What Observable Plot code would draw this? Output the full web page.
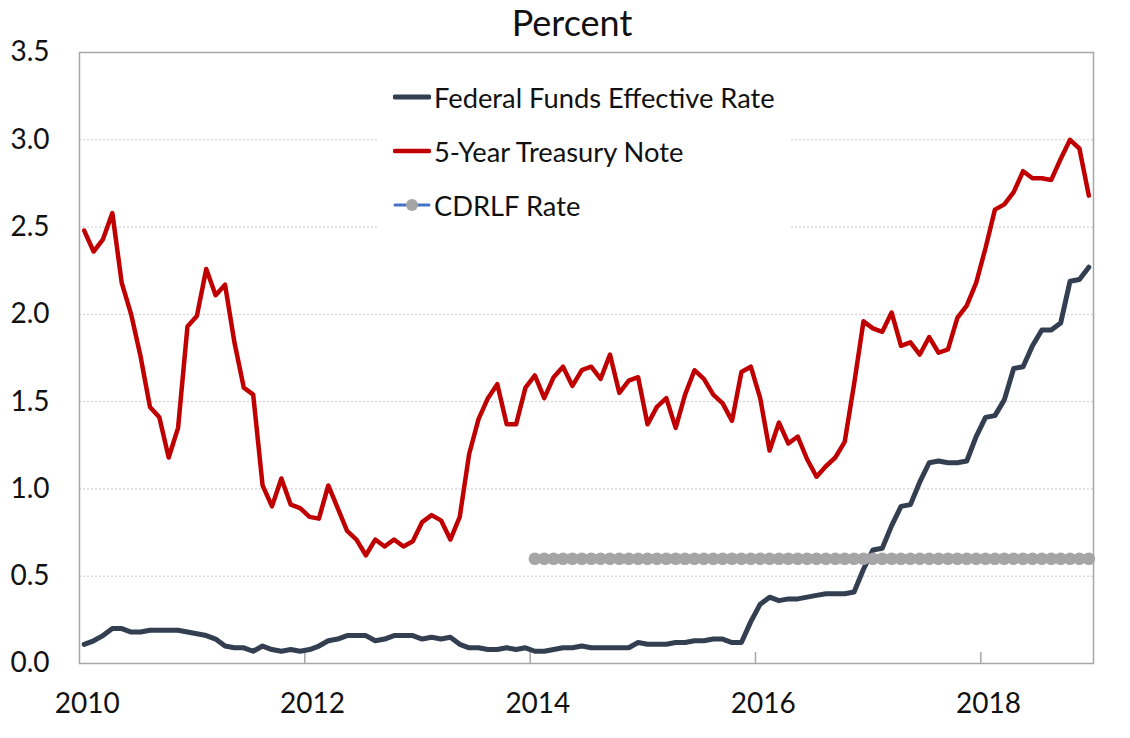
<!DOCTYPE html>
<html>
<head>
<meta charset="utf-8">
<script src="https://cdn.jsdelivr.net/npm/d3@7"></script>
<script src="https://cdn.jsdelivr.net/npm/@observablehq/plot@0.6"></script>
<style>
  html, body { margin: 0; padding: 0; background: #fff; }
  #wrap { position: relative; width: 1130px; height: 738px; font-family: Lato, "Open Sans", sans-serif; }
  #title { position: absolute; left: 572px; top: 0px; transform: translateX(-50%); font-size: 36px; color: #111; white-space: nowrap; }
  #legend { position: absolute; left: 379px; top: 72px; width: 411px; height: 163px; background: #fff; }
  .item { position: absolute; left: 14px; height: 30px; display: flex; align-items: center; font-size: 27.3px; color: #111; white-space: nowrap; }
  .item svg { margin-right: 3px; }
</style>
</head>
<body>
<div id="wrap">
  <div id="chart"></div>
  <div id="title">Percent</div>
  <div id="legend"></div>
</div>
<script>
// Monthly series, Jan 2010 – Dec 2018
const startMonth = "2010-01";
const fedFunds = [
  0.11,0.13,0.16,0.20,0.20,0.18,0.18,0.19,0.19,0.19,0.19,0.18,
  0.17,0.16,0.14,0.10,0.09,0.09,0.07,0.10,0.08,0.07,0.08,0.07,
  0.08,0.10,0.13,0.14,0.16,0.16,0.16,0.13,0.14,0.16,0.16,0.16,
  0.14,0.15,0.14,0.15,0.11,0.09,0.09,0.08,0.08,0.09,0.08,0.09,
  0.07,0.07,0.08,0.09,0.09,0.10,0.09,0.09,0.09,0.09,0.09,0.12,
  0.11,0.11,0.11,0.12,0.12,0.13,0.13,0.14,0.14,0.12,0.12,0.24,
  0.34,0.38,0.36,0.37,0.37,0.38,0.39,0.40,0.40,0.40,0.41,0.54,
  0.65,0.66,0.79,0.90,0.91,1.04,1.15,1.16,1.15,1.15,1.16,1.30,
  1.41,1.42,1.51,1.69,1.70,1.82,1.91,1.91,1.95,2.19,2.20,2.27
];
const treasury5y = [
  2.48,2.36,2.43,2.58,2.18,2.00,1.76,1.47,1.41,1.18,1.35,1.93,
  1.99,2.26,2.11,2.17,1.84,1.58,1.54,1.02,0.90,1.06,0.91,0.89,
  0.84,0.83,1.02,0.89,0.76,0.71,0.62,0.71,0.67,0.71,0.67,0.70,
  0.81,0.85,0.82,0.71,0.84,1.20,1.40,1.52,1.60,1.37,1.37,1.58,
  1.65,1.52,1.64,1.70,1.59,1.68,1.70,1.63,1.77,1.55,1.62,1.64,
  1.37,1.47,1.52,1.35,1.54,1.68,1.63,1.54,1.49,1.39,1.67,1.70,
  1.52,1.22,1.38,1.26,1.30,1.17,1.07,1.13,1.18,1.27,1.60,1.96,
  1.92,1.90,2.01,1.82,1.84,1.77,1.87,1.78,1.80,1.98,2.05,2.18,
  2.38,2.60,2.63,2.70,2.82,2.78,2.78,2.77,2.89,3.00,2.95,2.68
];
// CDRLF rate, Jan 2014 – Dec 2018
const cdrlfStart = "2014-01";
const cdrlf = [
  0.6,0.6,0.6,0.6,0.6,0.6,0.6,0.6,0.6,0.6,0.6,0.6,
  0.6,0.6,0.6,0.6,0.6,0.6,0.6,0.6,0.6,0.6,0.6,0.6,
  0.6,0.6,0.6,0.6,0.6,0.6,0.6,0.6,0.6,0.6,0.6,0.6,
  0.6,0.6,0.6,0.6,0.6,0.6,0.6,0.6,0.6,0.6,0.6,0.6,
  0.6,0.6,0.6,0.6,0.6,0.6,0.6,0.6,0.6,0.6,0.6,0.6
];
const xTickLabels = ["2010","2012","2014","2016","2018"];
const yTicks = [0,0.5,1.0,1.5,2.0,2.5,3.0,3.5];
const seriesNames = ["Federal Funds Effective Rate","5-Year Treasury Note","CDRLF Rate"];

const colors = { fed: "#333f50", tsy: "#c00000", cdrlfDot: "#a5a5a5", cdrlfLine: "#4472c4", axis: "#a6a6a6", grid: "#c8c8c8" };

const parse = d3.utcParse("%Y-%m");
const t0 = parse(startMonth);
const monthIndex = d => d3.utcMonth.count(t0, d);
const months = fedFunds.map((_, i) => d3.utcMonth.offset(t0, i));
const fedRows = fedFunds.map((v, i) => ({i: monthIndex(months[i]), v}));
const tsyRows = treasury5y.map((v, i) => ({i: monthIndex(months[i]), v}));
const cStart = monthIndex(parse(cdrlfStart));
const cdrlfRows = cdrlf.map((v, k) => ({i: cStart + k, v}));

const labelIdx = xTickLabels.map(y => monthIndex(parse(y + "-01")));
const boundaryIdx = labelIdx.slice(1).map(i => i - 0.5);

const chart = Plot.plot({
  width: 1130,
  height: 738,
  marginLeft: 79,
  marginRight: 37,
  marginTop: 52,
  marginBottom: 75,
  style: { fontFamily: "Lato, 'Open Sans', sans-serif", color: "#111", background: "#fff" },
  x: { type: "linear", domain: [-0.5, fedFunds.length - 0.5], axis: null },
  y: { domain: [0, 3.5], axis: null },
  marks: [
    Plot.gridY(yTicks.filter(d => d > 0 && d < 3.5), { stroke: colors.grid, strokeOpacity: 1, strokeDasharray: "2,2" }),
    Plot.axisY({ ticks: yTicks, tickFormat: d3.format(".1f"), tickSize: 0, tickPadding: 30, fontSize: 28, fill: "#111", label: null }),
    Plot.axisX({ ticks: labelIdx, tickFormat: (d, k) => xTickLabels[k], tickSize: 0, tickPadding: 30, dx: 3, fontSize: 28, fill: "#111", label: null }),
    Plot.axisX({ ticks: boundaryIdx, tickSize: -11, tickFormat: () => "", stroke: colors.axis, strokeWidth: 1.5, label: null }),
    Plot.frame({ stroke: colors.axis, strokeWidth: 1.5 }),
    Plot.line(fedRows, { x: "i", y: "v", stroke: colors.fed, strokeWidth: 5, strokeLinejoin: "round" }),
    Plot.line(tsyRows, { x: "i", y: "v", stroke: colors.tsy, strokeWidth: 4.5, strokeLinejoin: "round" }),
    Plot.dot(cdrlfRows, { x: "i", y: "v", r: 6.3, fill: colors.cdrlfDot, stroke: "none" })
  ]
});
document.getElementById("chart").appendChild(chart);

// Legend
const legend = document.getElementById("legend");
const swatches = [
  `<svg width="38" height="14"><line x1="2" y1="7" x2="36" y2="7" stroke="${colors.fed}" stroke-width="5" stroke-linecap="round"/></svg>`,
  `<svg width="38" height="14"><line x1="2" y1="7" x2="36" y2="7" stroke="${colors.tsy}" stroke-width="4.5" stroke-linecap="round"/></svg>`,
  `<svg width="38" height="14"><line x1="2" y1="7" x2="36" y2="7" stroke="${colors.cdrlfLine}" stroke-width="3" stroke-linecap="round"/><circle cx="19" cy="7" r="6" fill="${colors.cdrlfDot}"/></svg>`
];
const tops = [10, 64, 118];
seriesNames.forEach((name, k) => {
  const div = document.createElement("div");
  div.className = "item";
  div.style.top = tops[k] + "px";
  div.innerHTML = swatches[k] + `<span>${name}</span>`;
  legend.appendChild(div);
});
</script>
</body>
</html>
